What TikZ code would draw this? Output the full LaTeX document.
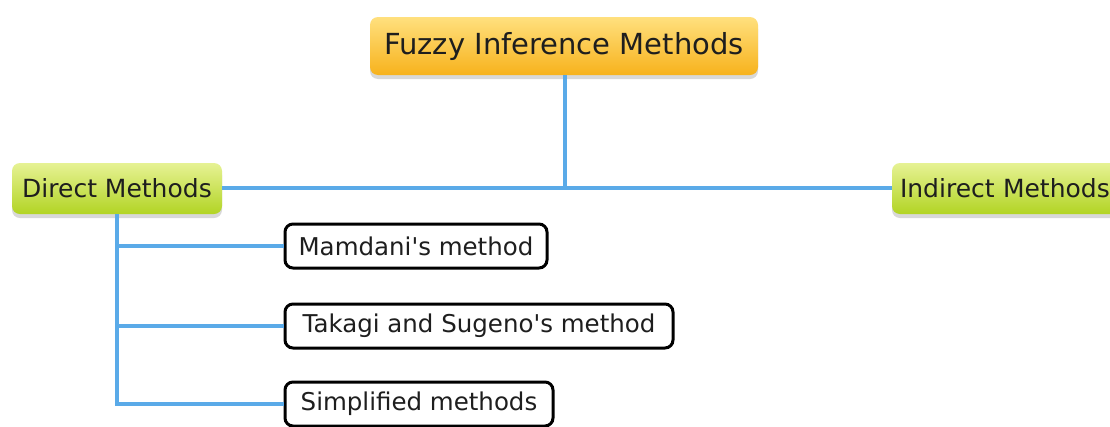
\documentclass[tikz,border=0pt]{standalone}
\usepackage{fontspec}
\setmainfont{DejaVu Sans}
\usetikzlibrary{shadows}
\definecolor{conn}{HTML}{5AAAE8}
\definecolor{txt}{HTML}{1E1E1E}
\definecolor{roottop}{HTML}{FFE07E}
\definecolor{rootbot}{HTML}{F7B21C}
\definecolor{cattop}{HTML}{E6F294}
\definecolor{catbot}{HTML}{B2D424}
\tikzset{
  rootbox/.style={draw=none, rounded corners=8pt, top color=roottop, bottom color=rootbot,
    minimum width=388pt, minimum height=58pt, inner sep=0pt, font=\fontsize{29}{31}\selectfont, text=txt,
    drop shadow={shadow xshift=0pt, shadow yshift=-4pt, opacity=0.3}},
  catbox/.style={draw=none, rounded corners=8pt, top color=cattop, bottom color=catbot,
    minimum height=51pt, inner sep=0pt, font=\fontsize{25}{27}\selectfont, text=txt,
    drop shadow={shadow xshift=0pt, shadow yshift=-4pt, opacity=0.3}},
  leafbox/.style={draw=black, line width=3pt, rounded corners=8pt, fill=white, minimum height=44pt, inner sep=0pt,
    font=\fontsize{24.5}{26}\selectfont, text=txt},
  link/.style={draw=conn, line width=4pt},
}
\begin{document}
\begin{tikzpicture}[x=1pt,y=-1pt]
\clip (0,0) rectangle (1110,426);
\fill[white] (0,0) rectangle (1110,426);
\node[rootbox] (root) at (564,46) {Fuzzy Inference Methods};
\node[catbox, minimum width=210pt] (direct) at (117,188.5) {Direct Methods};
\node[catbox, minimum width=236pt, text width=220pt, align=left] (indirect) at (1010,188.5) {Indirect Methods};
\node[leafbox, minimum width=262pt] (mam) at (416,246) {Mamdani\textquotesingle s method};
\node[leafbox, minimum width=388pt] (tak) at (479,326) {Takagi and Sugeno\textquotesingle s method};
\node[leafbox, minimum width=268pt] (simp) at (419,404) {Simplified methods};
\coordinate (j) at (565,188);
\coordinate (dtop) at (117,214);
\draw[link] (root.south -| j) -- (j);
\draw[link] (direct.east |- j) -- (indirect.west |- j);
\draw[link] (dtop) |- (mam.west);
\draw[link] (dtop) |- (tak.west);
\draw[link] (dtop) |- (simp.west);
\end{tikzpicture}
\end{document}
